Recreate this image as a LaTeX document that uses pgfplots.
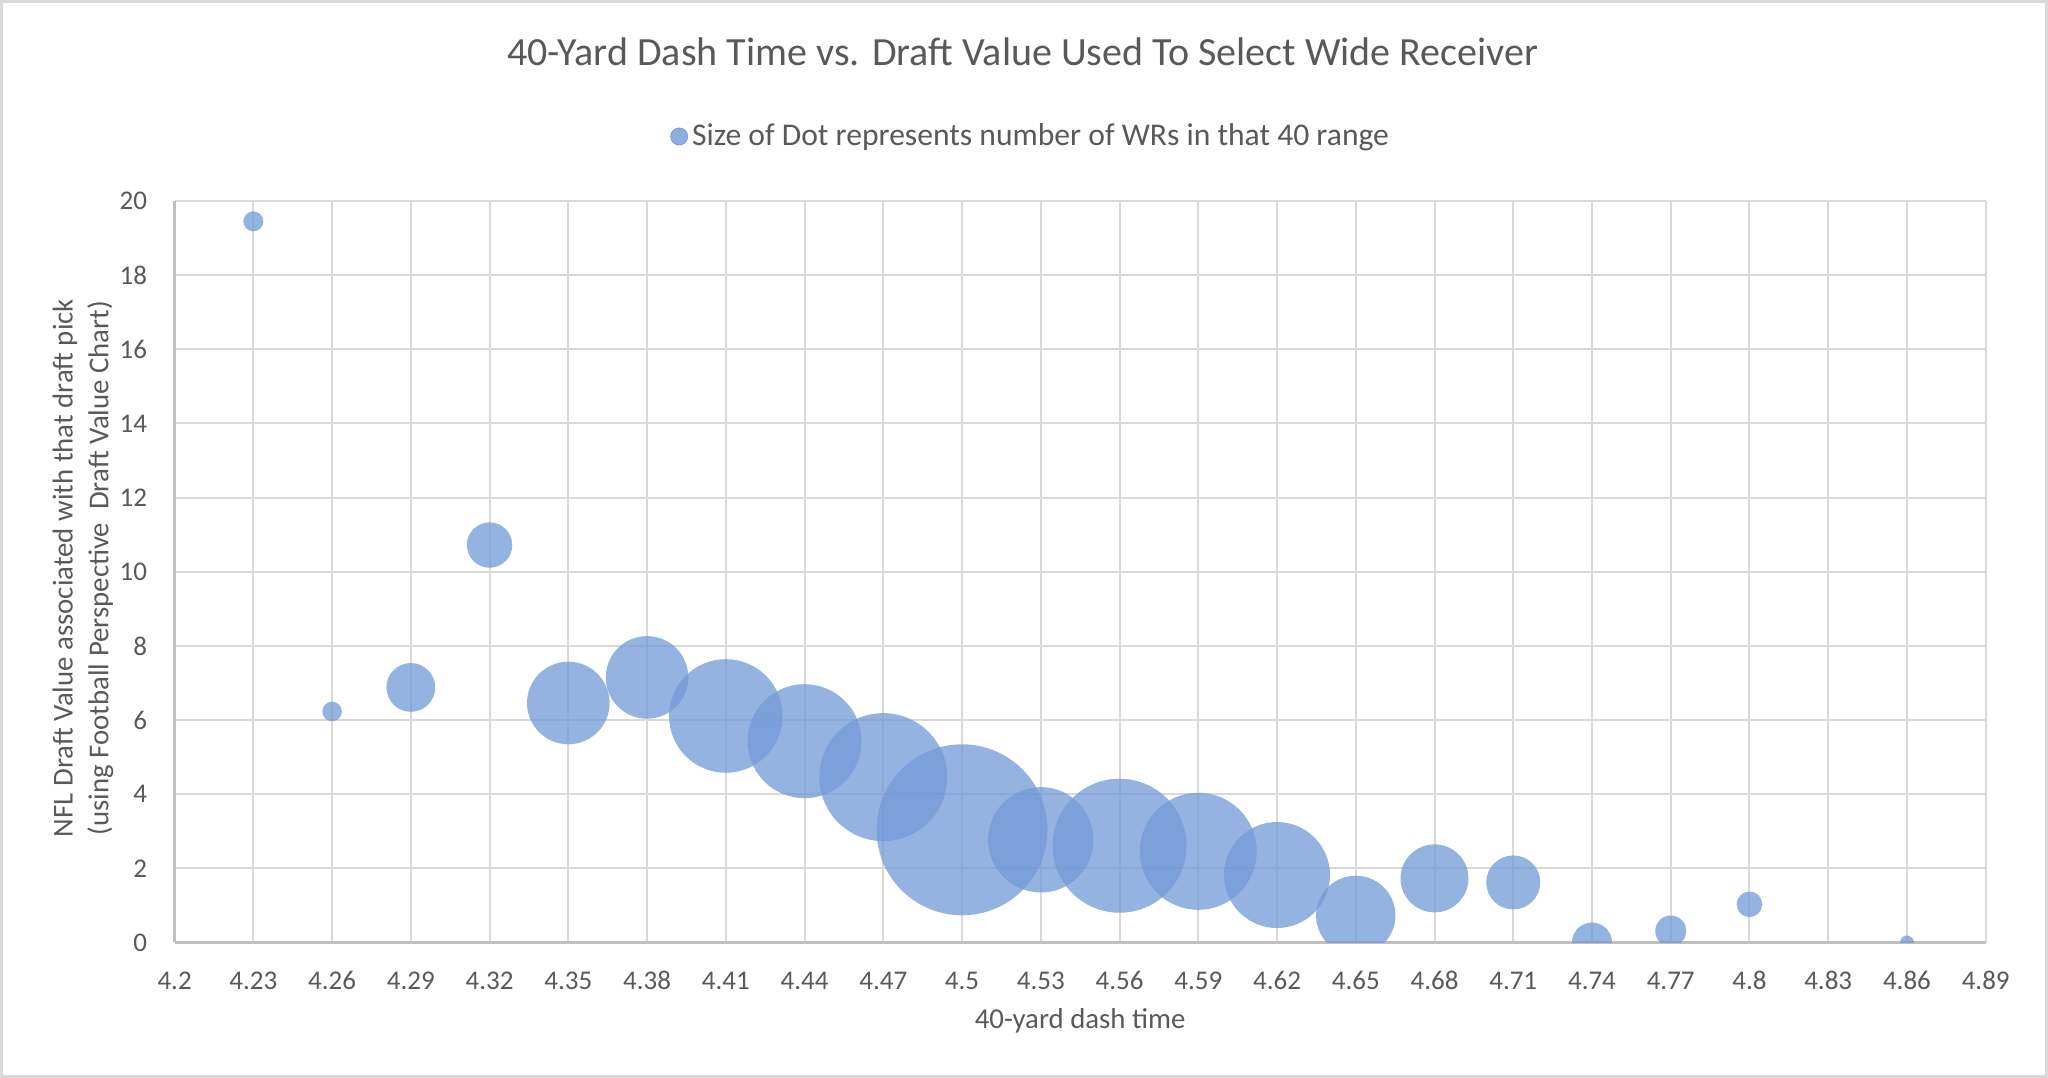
\documentclass[border=0pt]{standalone}
\usepackage{fontspec}
\setmainfont{Carlito}
\usepackage{pgfplots}
\pgfplotsset{compat=1.18}
\definecolor{txt}{HTML}{595959}
\definecolor{gridc}{HTML}{D9D9D9}
\definecolor{axc}{HTML}{BFBFBF}
\definecolor{bubble}{RGB}{114,154,215}
\begin{document}
\begin{tikzpicture}
\useasboundingbox (0,0) rectangle (1024bp,539bp);
\draw[gridc, line width=1.5bp] (0.75bp,0.75bp) rectangle (1023.25bp,538.25bp);
\begin{axis}[
  at={(87.3bp,67.75bp)}, anchor=south west,
  width=905.55bp, height=370.75bp, scale only axis,
  xmin=4.2, xmax=4.89, ymin=0, ymax=20, enlargelimits=false,
  xtick={4.2,4.23,4.26,4.29,4.32,4.35,4.38,4.41,4.44,4.47,4.5,4.53,4.56,4.59,4.62,4.65,4.68,4.71,4.74,4.77,4.8,4.83,4.86,4.89},
  xticklabels={4.2,4.23,4.26,4.29,4.32,4.35,4.38,4.41,4.44,4.47,4.5,4.53,4.56,4.59,4.62,4.65,4.68,4.71,4.74,4.77,4.8,4.83,4.86,4.89},
  ytick={0,2,4,6,8,10,12,14,16,18,20},
  /pgf/number format/assume math mode=true,
  grid=major,
  major grid style={gridc, line width=1bp},
  axis lines=left,
  axis line style={-, axc, line width=1.2bp},
  tick style={draw=none},
  tick label style={font=\fontsize{13.5bp}{16bp}\selectfont, text=txt},
  xticklabel style={anchor=base, inner sep=0pt, yshift=-21.5bp},
  yticklabel style={anchor=east, inner sep=0pt, xshift=-11.5bp},
  clip marker paths=true,
  title={40-Yard Dash Time vs. Draft Value Used To Select Wide Receiver},
  title style={at={(axis description cs:0.4683,1.1845)}, anchor=center, yshift=0pt, font=\fontsize{20bp}{24bp}\selectfont, text=txt, inner sep=0pt},
  xlabel={40-yard dash time},
  xlabel style={at={(axis description cs:0.5,-0.106)}, anchor=center, font=\fontsize{14.4bp}{17bp}\selectfont, text=txt, inner sep=0pt},
  ylabel={NFL Draft Value associated with that draft pick\\(using Football Perspective~ Draft Value Chart)},
  ylabel style={at={(axis description cs:-0.0506,0.505)}, anchor=center, align=center, font=\fontsize{14.4bp}{17.8bp}\selectfont, text=txt, inner sep=0pt},
  legend style={at={(axis description cs:0.4732,1.087)}, anchor=center, draw=none, fill=none, font=\fontsize{15.8bp}{19bp}\selectfont, text=txt, inner sep=0pt},
  legend image code/.code={\fill[bubble, fill opacity=0.8] (0bp,0bp) circle (4.25bp);},
]
\addplot[scatter, only marks, mark=*,
  scatter/use mapped color={draw=bubble, draw opacity=0, fill=bubble, fill opacity=0.75},
  mark options={draw opacity=0},
  visualization depends on={\thisrow{r} \as \rad},
  scatter/@pre marker code/.append style={/tikz/mark size=\rad bp}]
table {
x y r
4.23 19.45 5.0
4.26 6.23 4.9
4.29 6.88 12.2
4.32 10.72 11.35
4.35 6.46 20.65
4.38 7.15 20.65
4.41 6.11 28.4
4.44 5.43 28.5
4.47 4.46 32
4.50 3.04 42.75
4.53 2.77 26.35
4.56 2.61 33.5
4.59 2.46 29.25
4.62 1.82 26.5
4.65 0.73 19.85
4.68 1.73 17
4.71 1.62 13.5
4.74 0.00 10
4.77 0.31 7.75
4.80 1.03 6.4
4.86 0.00 3.5
};
\addlegendentry{Size of Dot represents number of WRs in that 40 range}
\end{axis}
\end{tikzpicture}
\end{document}
